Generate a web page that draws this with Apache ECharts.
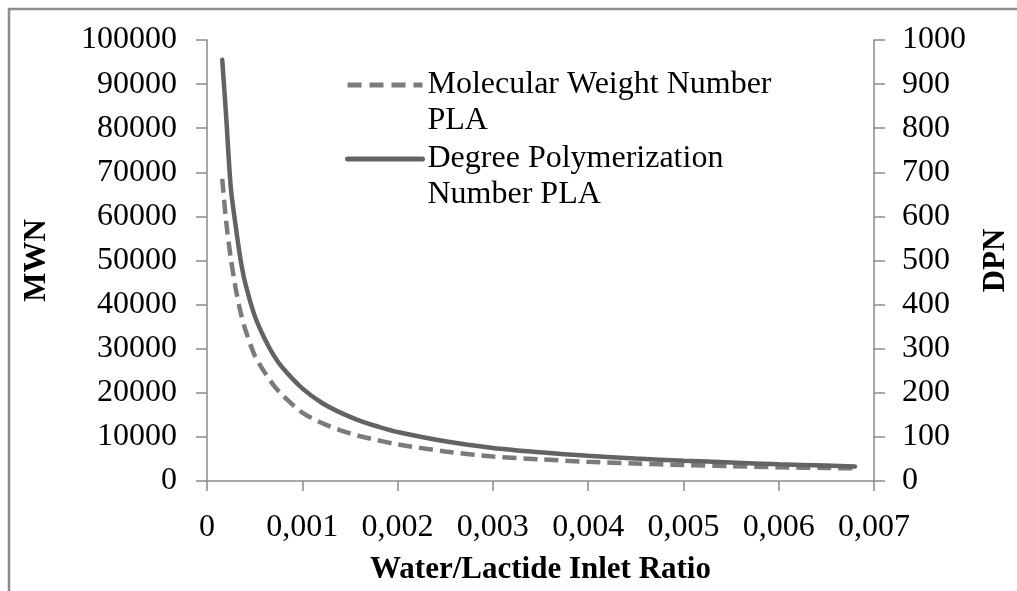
<!DOCTYPE html>
<html>
<head>
<meta charset="utf-8">
<script src="https://cdn.jsdelivr.net/npm/echarts@6/dist/echarts.min.js"></script>
<style>
  html, body { margin: 0; padding: 0; background: #ffffff; }
  #chart { width: 1017px; height: 591px; }
</style>
</head>
<body>
<div id="chart"></div>
<script>
// Water/lactide inlet ratio (x values)
const ratio = [0.00016, 0.0002, 0.00025, 0.0003, 0.00035, 0.0004, 0.0005, 0.0006, 0.0007, 0.0008,
               0.001, 0.0012, 0.0014, 0.0016, 0.0018, 0.002, 0.0025, 0.003, 0.0035, 0.004,
               0.0045, 0.005, 0.0055, 0.006, 0.0065, 0.0068];
// Molecular weight number of PLA (left axis)
const mwn = [68500, 59000, 50500, 43800, 38500, 34500, 28500, 24800, 21700, 19300,
             15500, 13200, 11500, 10200, 9200, 8300, 6700, 5550, 4900, 4350,
             3950, 3620, 3350, 3100, 2950, 2870];
// Degree of polymerization number of PLA (right axis)
const dpn = [955, 830, 665, 580, 505, 450, 375, 325, 285, 255,
             210, 178, 155, 137, 123, 111, 90, 75, 65, 57,
             51, 46, 42, 38, 35, 33];

const seriesNames = ['Molecular Weight Number PLA', 'Degree Polymerization Number PLA'];
// Legend captions wrap onto two lines; the leading blank line keeps the
// key line level with the first line of its caption.
const legendLabels = ['\nMolecular Weight Number\nPLA', '\nDegree Polymerization\nNumber PLA'];

const FONT = '"Liberation Serif", "Times New Roman", serif';
const AXIS_GREY = '#8a8a8a';
const DASH_GREY = '#7b7b7b';
const SOLID_GREY = '#636363';
const LINE_H = 36;

const chart = echarts.init(document.getElementById('chart'), null, { renderer: 'canvas' });

const axisCommon = {
  axisLine: { show: true, lineStyle: { color: AXIS_GREY, width: 1.5 } },
  axisTick: { show: true, inside: false, length: 11, lineStyle: { color: AXIS_GREY, width: 1.5 } },
  splitLine: { show: false },
  axisLabel: { color: '#000', fontFamily: FONT, fontSize: 32, formatter: v => String(v) },
  nameTextStyle: { color: '#000', fontFamily: FONT, fontSize: 31, fontWeight: 'bold' }
};

function legendFor(i, top, lineStyle) {
  return {
    show: true,
    orient: 'vertical',
    left: 345,
    top: top,
    padding: 0,
    itemWidth: 75,
    itemHeight: 6,
    data: [seriesNames[i]],
    formatter: () => legendLabels[i],
    itemStyle: { opacity: 0 },
    lineStyle: lineStyle,
    textStyle: { color: '#000', fontFamily: FONT, fontSize: 32, lineHeight: LINE_H }
  };
}

const option = {
  backgroundColor: '#ffffff',
  animation: false,
  graphic: [{
    type: 'rect',
    shape: { x: 9, y: 9, width: 1100, height: 700 },
    style: { fill: 'none', stroke: '#8c8c8c', lineWidth: 2.5 },
    silent: true
  }],
  grid: { left: 207, right: 143, top: 40, bottom: 110, containLabel: false, outerBoundsMode: 'none' },
  legend: [
    legendFor(0, 31, { color: DASH_GREY, width: 5, type: [14, 8], cap: 'butt' }),
    legendFor(1, 105, { color: SOLID_GREY, width: 5, type: 'solid' })
  ],
  xAxis: Object.assign({}, axisCommon, {
    type: 'value',
    min: 0, max: 0.007, interval: 0.001,
    axisTick: Object.assign({}, axisCommon.axisTick, { length: 10 }),
    axisLabel: Object.assign({}, axisCommon.axisLabel, {
      margin: 31,
      formatter: v => v === 0 ? '0' : v.toFixed(3).replace('.', ',')
    }),
    name: 'Water/Lactide Inlet Ratio',
    nameLocation: 'middle',
    nameGap: 73
  }),
  yAxis: [
    Object.assign({}, axisCommon, {
      type: 'value', position: 'left',
      min: 0, max: 100000, interval: 10000,
      axisLabel: Object.assign({}, axisCommon.axisLabel, { margin: 30 }),
      name: 'MWN', nameLocation: 'middle', nameRotate: 90, nameGap: 155
    }),
    Object.assign({}, axisCommon, {
      type: 'value', position: 'right',
      min: 0, max: 1000, interval: 100,
      axisLabel: Object.assign({}, axisCommon.axisLabel, { margin: 28 }),
      name: 'DPN', nameLocation: 'middle', nameRotate: 90, nameGap: 106
    })
  ],
  series: [
    {
      name: seriesNames[0],
      type: 'line',
      yAxisIndex: 0,
      data: ratio.map((x, i) => [x, mwn[i]]),
      showSymbol: false, symbol: 'none',
      smooth: 0.3,
      lineStyle: { color: DASH_GREY, width: 4.5, type: [14, 7], cap: 'butt' },
      itemStyle: { color: DASH_GREY },
      z: 2
    },
    {
      name: seriesNames[1],
      type: 'line',
      yAxisIndex: 1,
      data: ratio.map((x, i) => [x, dpn[i]]),
      showSymbol: false, symbol: 'none',
      smooth: 0.3,
      lineStyle: { color: SOLID_GREY, width: 4.5, type: 'solid', cap: 'round' },
      itemStyle: { color: SOLID_GREY },
      z: 3
    }
  ]
};

chart.setOption(option);
</script>
</body>
</html>
